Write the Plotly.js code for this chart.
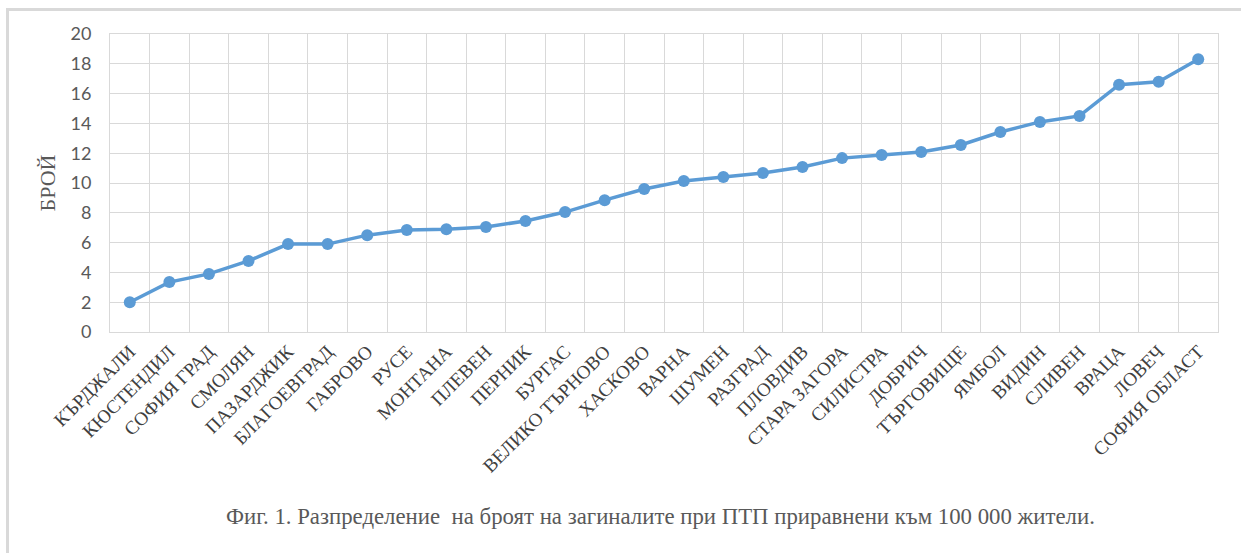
<!DOCTYPE html>
<html>
<head>
<meta charset="utf-8">
<script src="https://cdn.plot.ly/plotly-3.0.1.min.js"></script>
<style>
  html, body { margin: 0; padding: 0; background: #fff; }
  #wrap { position: relative; width: 1241px; height: 553px; overflow: hidden; }
  #frame { position: absolute; left: 6px; top: 8px; width: 1300px; height: 600px; border-left: 3px solid #d9d9d9; border-top: 3px solid #d9d9d9; box-sizing: border-box; pointer-events: none; }
  #chart { position: absolute; left: 0; top: 0; width: 1241px; height: 553px; }
</style>
</head>
<body>
<div id="wrap">
  <div id="chart"></div>
  <div id="frame"></div>
</div>
<script>
const regions = ["КЪРДЖАЛИ", "КЮСТЕНДИЛ", "СОФИЯ ГРАД", "СМОЛЯН", "ПАЗАРДЖИК", "БЛАГОЕВГРАД", "ГАБРОВО", "РУСЕ", "МОНТАНА", "ПЛЕВЕН", "ПЕРНИК", "БУРГАС", "ВЕЛИКО ТЪРНОВО", "ХАСКОВО", "ВАРНА", "ШУМЕН", "РАЗГРАД", "ПЛОВДИВ", "СТАРА ЗАГОРА", "СИЛИСТРА", "ДОБРИЧ", "ТЪРГОВИЩЕ", "ЯМБОЛ", "ВИДИН", "СЛИВЕН", "ВРАЦА", "ЛОВЕЧ", "СОФИЯ ОБЛАСТ"];
const deaths = [2.0, 3.35, 3.9, 4.77, 5.9, 5.9, 6.5, 6.85, 6.9, 7.05, 7.45, 8.05, 8.85, 9.6, 10.13, 10.4, 10.67, 11.07, 11.67, 11.88, 12.08, 12.55, 13.42, 14.1, 14.5, 16.6, 16.8, 18.3];
const yTicks = [0, 2, 4, 6, 8, 10, 12, 14, 16, 18, 20];
const yTitle = "БРОЙ";
const caption = "Фиг. 1. Разпределение  на броят на загиналите при ПТП приравнени към 100 000 жители.";

const trace = {
  x: regions,
  y: deaths,
  type: "scatter",
  mode: "lines+markers",
  line: { color: "#5B9BD5", width: 3.5 },
  marker: { color: "#5B9BD5", size: 12 },
  hoverinfo: "x+y"
};

const layout = {
  width: 1241,
  height: 553,
  margin: { l: 110, r: 23, t: 34, b: 221 },
  paper_bgcolor: "#ffffff",
  plot_bgcolor: "#ffffff",
  showlegend: false,
  xaxis: {
    type: "category",
    range: [-0.5, regions.length - 0.5],
    tickson: "boundaries",
    showgrid: true,
    gridcolor: "#d9d9d9",
    gridwidth: 1,
    showline: true,
    linecolor: "#d9d9d9",
    linewidth: 1,
    mirror: true,
    ticks: "",
    tickangle: -45,
    tickfont: { family: "Liberation Serif, Times New Roman, serif", size: 19, color: "#404040" },
    fixedrange: true
  },
  yaxis: {
    range: [0, 20],
    tickvals: yTicks,
    ticktext: yTicks.map(String),
    showgrid: true,
    gridcolor: "#d9d9d9",
    gridwidth: 1,
    zeroline: false,
    showline: true,
    linecolor: "#d9d9d9",
    linewidth: 1,
    mirror: true,
    ticks: "",
    ticklabelstandoff: 14,
    tickfont: { family: "Lato, Carlito, Calibri, sans-serif", size: 18, color: "#595959" },
    title: { text: yTitle, font: { family: "Liberation Serif, Times New Roman, serif", size: 22, color: "#595959" }, standoff: 8 },
    fixedrange: true
  },
  annotations: [{
    text: caption,
    xref: "paper", yref: "paper",
    x: 0.497, y: -0.62,
    xanchor: "center", yanchor: "middle",
    showarrow: false,
    font: { family: "Liberation Serif, Times New Roman, serif", size: 22.8, color: "#595959" }
  }]
};

Plotly.newPlot("chart", [trace], layout, { displayModeBar: false, staticPlot: true });
</script>
</body>
</html>
